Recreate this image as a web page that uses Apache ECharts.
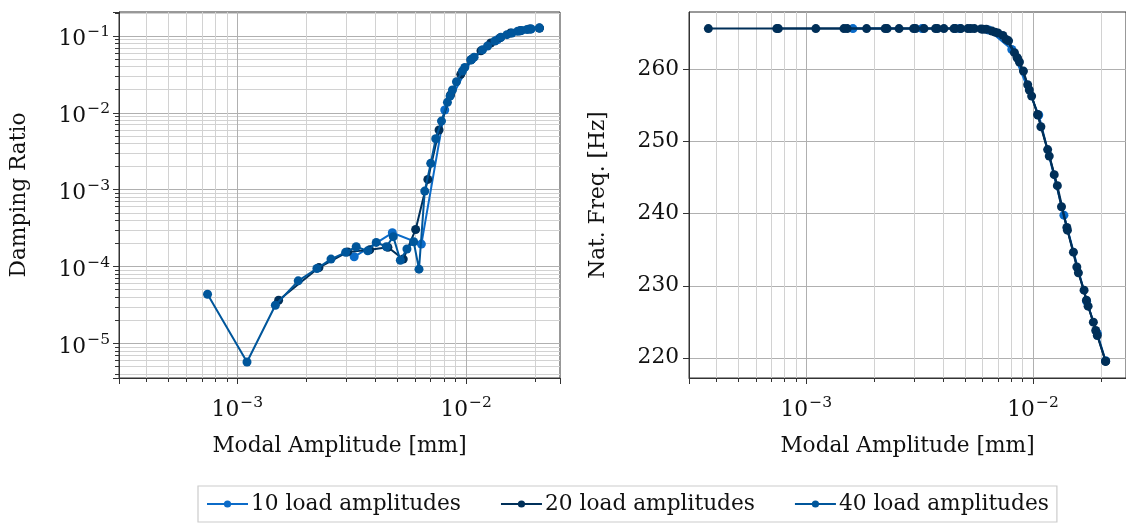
<!DOCTYPE html>
<html><head><meta charset="utf-8">
<script src="https://cdn.jsdelivr.net/npm/echarts@6/dist/echarts.min.js"></script>
<style>html,body{margin:0;padding:0;background:#fff}#c{width:1126px;height:523px}</style>
</head><body><div id="c"></div>
<script>
// ---------- data ----------
const seriesNames = ['10 load amplitudes', '20 load amplitudes', '40 load amplitudes'];

const amp10  = [1.606e-3, 3.24e-3, 4.756e-3, 6.37e-3, 8.06e-3, 1.06e-2, 1.368e-2, 1.723e-2, 1.92e-2, 2.09e-2];
const damp10 = [null, 1.34e-4, 2.75e-4, 1.96e-4, 1.09e-2, 5.0e-2, 8.9e-2, 0.117, 0.123, 0.1265];
const freq10 = [265.7, 265.7, 265.7, 265.5, 262.8, 253.7, 239.8, 227.86, 223.4, 219.6];

const amp20  = [7.53e-4, 1.515e-3, 2.273e-3, 3.034e-3, 3.79e-3, 4.55e-3, 5.31e-3, 6.015e-3, 6.80e-3, 7.61e-3,
                8.54e-3, 9.47e-3, 1.05e-2, 1.16e-2, 1.28e-2, 1.41e-2, 1.56e-2, 1.72e-2, 1.89e-2, 2.09e-2];
const damp20 = [null, 3.65e-5, 9.7e-5, 1.55e-4, 1.65e-4, 1.78e-4, 1.25e-4, 3.04e-4, 1.36e-3, 5.97e-3,
                1.71e-2, 3.17e-2, 4.9e-2, 6.4e-2, 8.1e-2, 9.5e-2, 0.109, 0.117, 0.123, 0.1265];
const freq20 = [265.7, 265.7, 265.7, 265.7, 265.7, 265.7, 265.7, 265.6, 265.2, 264.2,
                261.6, 257.9, 253.7, 248.9, 243.9, 238.1, 232.6, 228.0, 223.8, 219.5];

const amp40  = [3.70e-4, 7.41e-4, 1.102e-3, 1.466e-3, 1.845e-3, 2.227e-3, 2.566e-3, 2.973e-3, 3.307e-3, 3.713e-3,
                4.046e-3, 4.48e-3, 4.80e-3, 5.155e-3, 5.51e-3, 5.895e-3, 6.22e-3, 6.59e-3, 7.00e-3, 7.36e-3,
                7.80e-3, 8.28e-3, 8.50e-3, 8.71e-3, 9.07e-3, 9.63e-3, 9.86e-3, 1.048e-2, 1.083e-2, 1.179e-2,
                1.24e-2, 1.335e-2, 1.418e-2, 1.507e-2, 1.585e-2, 1.679e-2, 1.749e-2, 1.845e-2, 1.92e-2, 2.088e-2];
const damp40 = [null, 4.37e-5, 5.74e-6, 3.14e-5, 6.52e-5, 9.44e-5, 1.25e-4, 1.53e-4, 1.81e-4, 1.60e-4,
                2.06e-4, 1.81e-4, 2.45e-4, 1.21e-4, 1.69e-4, 2.10e-4, 9.25e-5, 9.6e-4, 2.2e-3, 4.6e-3,
                7.8e-3, 1.37e-2, 1.65e-2, 1.98e-2, 2.54e-2, 3.5e-2, 3.9e-2, 4.87e-2, 5.3e-2, 6.6e-2,
                7.4e-2, 8.6e-2, 9.6e-2, 0.104, 0.109, 0.115, 0.118, 0.1215, 0.1235, 0.127];
const freq40 = [265.7, 265.7, 265.7, 265.7, 265.7, 265.7, 265.7, 265.7, 265.7, 265.7,
                265.7, 265.7, 265.7, 265.7, 265.7, 265.65, 265.6, 265.35, 265.1, 264.75,
                264.0, 262.36, 261.67, 261.06, 259.8, 257.17, 256.33, 253.79, 252.08, 248.0,
                245.42, 240.97, 237.72, 234.67, 231.8, 229.39, 227.17, 224.95, 223.1, 219.53];

// tick labels
const xTickExponents = [-3, -2];
const dampTickExponents = [-5, -4, -3, -2, -1];
const freqTicks = [220, 230, 240, 250, 260];

// ---------- styling ----------
const FONT = 'DejaVu Serif';
const FS = 21.7;
const colorsLeft  = ['#0b6bc8', '#00305a', '#00569b'];
const colorsRight = ['#0b6bc8', '#00305a', '#002f58'];
const majorGrid = '#b0b0b0', minorGrid = '#d2d2d2', frame = '#333333';

const rich = {
  b: {fontFamily: FONT, fontSize: FS, color: '#111', verticalAlign: 'bottom', lineHeight: 29},
  s: {fontFamily: FONT, fontSize: 15.5, color: '#111', verticalAlign: 'bottom', lineHeight: 29, padding: [0, 0, 10, 1]}
};
function powFormatter(exps) {
  return function (v) {
    const l = Math.log10(v), e = Math.round(l);
    if (Math.abs(l - e) > 1e-6 || exps.indexOf(e) < 0) return '';
    return '{b|10}{s|' + (e < 0 ? '\u2212' : '') + Math.abs(e) + '}';
  };
}
function zip(a, b) { return a.map((x, i) => [x, b[i]]); }

const xCommon = {
  type: 'log', logBase: 10, min: 3.04e-4, max: 2.57e-2,
  name: 'Modal Amplitude [mm]', nameLocation: 'middle', nameGap: 57,
  nameTextStyle: {fontFamily: FONT, fontSize: FS, color: '#111'},
  axisLine: {show: true, onZero: false, lineStyle: {color: frame, width: 1}},
  axisTick: {show: true, length: 6, lineStyle: {color: frame}},
  minorTick: {show: true, splitNumber: 9, length: 4, lineStyle: {color: frame}},
  axisLabel: {formatter: powFormatter(xTickExponents), rich: rich, margin: 14, showMinLabel: false, showMaxLabel: false},
  splitLine: {show: true, showMinLine: false, showMaxLine: false, lineStyle: {color: majorGrid, width: 1}},
  minorSplitLine: {show: true, lineStyle: {color: minorGrid, width: 1}}
};

const option = {
  animation: false,
  backgroundColor: '#fff',
  legend: {
    data: seriesNames, left: 198, top: 486, orient: 'horizontal',
    itemWidth: 41, itemHeight: 9, itemGap: 39,
    padding: [7, 8, 7, 8], borderColor: '#cccccc', borderWidth: 1.2, borderRadius: 0,
    textStyle: {fontFamily: FONT, fontSize: FS, color: '#111', padding: [0, 0, 0, -2]}
  },
  grid: [
    {left: 119, right: 566, top: 12, bottom: 145, show: true, borderColor: frame, borderWidth: 1, containLabel: false},
    {left: 689, right: -3, top: 12, bottom: 145, show: true, borderColor: frame, borderWidth: 1, containLabel: false}
  ],
  xAxis: [
    Object.assign({gridIndex: 0}, xCommon),
    Object.assign({gridIndex: 1}, xCommon)
  ],
  yAxis: [
    {
      gridIndex: 0, type: 'log', logBase: 10, min: 3.55e-6, max: 0.205,
      name: 'Damping Ratio', nameLocation: 'middle', nameGap: 89,
      nameTextStyle: {fontFamily: FONT, fontSize: FS, color: '#111'},
      axisLine: {show: true, onZero: false, lineStyle: {color: frame}},
      axisTick: {show: true, length: 6, lineStyle: {color: frame}},
      minorTick: {show: true, splitNumber: 9, length: 4, lineStyle: {color: frame}},
      axisLabel: {formatter: powFormatter(dampTickExponents), rich: rich, margin: 9, showMinLabel: false, showMaxLabel: false},
      splitLine: {show: true, showMinLine: false, showMaxLine: false, lineStyle: {color: majorGrid}},
      minorSplitLine: {show: true, lineStyle: {color: minorGrid}}
    },
    {
      gridIndex: 1, type: 'value', min: 217.2, max: 268.0,
      name: 'Nat. Freq. [Hz]', nameLocation: 'middle', nameGap: 80,
      nameTextStyle: {fontFamily: FONT, fontSize: FS, color: '#111'},
      axisLine: {show: true, onZero: false, lineStyle: {color: frame}},
      axisTick: {show: true, length: 6, lineStyle: {color: frame}},
      axisLabel: {fontFamily: FONT, fontSize: FS, color: '#111', margin: 10,
        formatter: v => (freqTicks.indexOf(Math.round(v * 1000) / 1000) >= 0 ? String(v) : ''),
        showMinLabel: false, showMaxLabel: false},
      splitLine: {show: true, showMinLine: false, showMaxLine: false, lineStyle: {color: majorGrid}}
    }
  ],
  series: []
};

const ampSets = [amp10, amp20, amp40];
const dampSets = [damp10, damp20, damp40];
const freqSets = [freq10, freq20, freq40];
for (let i = 0; i < 3; i++) {
  option.series.push({
    name: seriesNames[i], type: 'line', xAxisIndex: 0, yAxisIndex: 0,
    data: zip(ampSets[i], dampSets[i]), symbol: 'circle', symbolSize: 9, showSymbol: true,
    lineStyle: {width: 2, color: colorsLeft[i]}, itemStyle: {color: colorsLeft[i]},
    connectNulls: false, z: 2 + i
  });
}
for (let i = 0; i < 3; i++) {
  option.series.push({
    name: seriesNames[i], type: 'line', xAxisIndex: 1, yAxisIndex: 1,
    data: zip(ampSets[i], freqSets[i]), symbol: 'circle', symbolSize: 9, showSymbol: true,
    lineStyle: {width: 2, color: colorsRight[i]}, itemStyle: {color: colorsRight[i]},
    z: 2 + i
  });
}

const chart = echarts.init(document.getElementById('c'), null, {renderer: 'canvas'});
chart.setOption(option);
</script>
</body></html>
